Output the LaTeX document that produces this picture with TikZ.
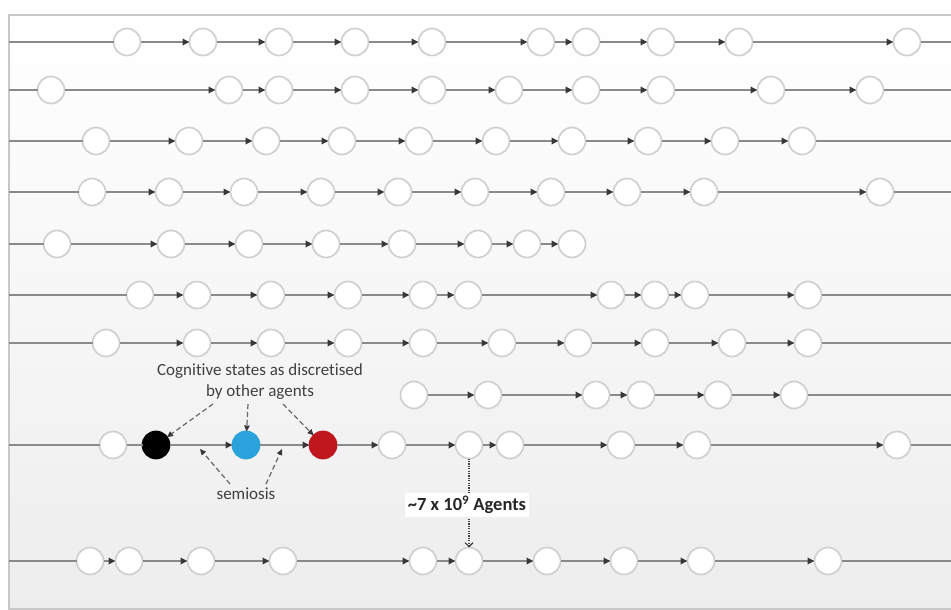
\documentclass[tikz,border=0pt]{standalone}
\usepackage{fontspec}
\setmainfont{Carlito}[Ligatures=NoCommon]
\usetikzlibrary{arrows.meta}
\definecolor{linkgray}{HTML}{8A8A8A}
\definecolor{ringgray}{HTML}{D0D0D0}
\definecolor{tipgray}{HTML}{383838}
\definecolor{agblue}{HTML}{2AA3DC}
\definecolor{agred}{HTML}{C0161D}
\definecolor{txtgray}{HTML}{404040}
\definecolor{framegray}{HTML}{C8C8C8}
\newcommand\agentrow[3]{\foreach \xx [count=\i] in {#3} {\node[state] (#1-\i) at (\xx,#2) {};}}
\newcommand\agentlinks[3]{\foreach \i [evaluate=\i as \p using int(\i-1)] in {#2,...,#3} {\draw[flow] (#1-\p) -- (#1-\i);}}
\begin{document}
\begin{tikzpicture}[x=1pt,y=-1pt,
  state/.style={circle,draw=ringgray,fill=white,line width=1.7pt,minimum size=27pt,inner sep=0pt,outer sep=0pt},
  link/.style={draw=linkgray,line width=1.7pt},
  flow/.style={link,-{Triangle[length=7pt,width=6.5pt,color=tipgray]}},
  dashflow/.style={draw=txtgray!80,line width=1.2pt,dash pattern=on 5pt off 3pt,-{Triangle[length=6pt,width=5.5pt,color=tipgray]}},
  dotflow/.style={draw=txtgray,line width=1.2pt,dash pattern=on 1.2pt off 1.2pt,-{Straight Barb[length=4pt,width=8pt,color=txtgray]}},
  txt/.style={font=\fontsize{17}{21}\selectfont,text=txtgray,inner sep=1pt}]
\useasboundingbox (0,0) rectangle (951,610);
\shade[top color=white, middle color=black!1, bottom color=black!7] (9,15) rectangle (951,609);
\draw[framegray,line width=1.3pt] (951,15) -- (9,15) -- (9,609) -- (951,609);
% row 1
\agentrow{r1}{42}{127,203,279,355,432,541,586,661,739,907}
\coordinate (r1s) at (9,42); \coordinate (r1e) at (951,42);
\draw[link] (r1s) -- (r1-1); \agentlinks{r1}{2}{10} \draw[link] (r1-10) -- (r1e);
% row 2
\agentrow{r2}{90}{51,229,279,355,432,509,586,661,771,870}
\coordinate (r2s) at (9,90); \coordinate (r2e) at (951,90);
\draw[link] (r2s) -- (r2-1); \agentlinks{r2}{2}{10} \draw[link] (r2-10) -- (r2e);
% row 3
\agentrow{r3}{141}{96,189,266,342,419,496,572,648,725,802}
\coordinate (r3s) at (9,141); \coordinate (r3e) at (951,141);
\draw[link] (r3s) -- (r3-1); \agentlinks{r3}{2}{10} \draw[link] (r3-10) -- (r3e);
% row 4
\agentrow{r4}{192}{92,169,244,321,398,475,551,627,704,880}
\coordinate (r4s) at (9,192); \coordinate (r4e) at (951,192);
\draw[link] (r4s) -- (r4-1); \agentlinks{r4}{2}{10} \draw[link] (r4-10) -- (r4e);
% row 5
\agentrow{r5}{244}{57,171,249,326,402,478,527,572}
\coordinate (r5s) at (9,244);
\draw[link] (r5s) -- (r5-1); \agentlinks{r5}{2}{8}
% row 6
\agentrow{r6}{295}{140,197,271,348,423,468,611,655,695,808}
\coordinate (r6s) at (9,295); \coordinate (r6e) at (951,295);
\draw[link] (r6s) -- (r6-1); \agentlinks{r6}{2}{10} \draw[link] (r6-10) -- (r6e);
% row 7
\agentrow{r7}{343}{106,197,271,348,423,502,578,655,732,808}
\coordinate (r7s) at (9,343); \coordinate (r7e) at (951,343);
\draw[link] (r7s) -- (r7-1); \agentlinks{r7}{2}{10} \draw[link] (r7-10) -- (r7e);
% row 8
\agentrow{r8}{395}{414,488,596,641,718,794}
\coordinate (r8e) at (951,395);
\agentlinks{r8}{2}{6} \draw[link] (r8-6) -- (r8e);
% row 9
\agentrow{r9}{445}{113,156,246,323,392,469,510,621,697,897}
\node[state,draw=black,fill=black] (r9-2) at (156,445) {};
\node[state,draw=agblue,fill=agblue] (r9-3) at (246,445) {};
\node[state,draw=agred,fill=agred] (r9-4) at (323,445) {};
\coordinate (r9s) at (9,445); \coordinate (r9e) at (951,445);
\draw[link] (r9s) -- (r9-1); \draw[link] (r9-1) -- (r9-2);
\agentlinks{r9}{3}{10} \draw[link] (r9-10) -- (r9e);
% row 10
\agentrow{r10}{561}{90,129,201,283,423,469,547,624,701,828}
\coordinate (r10s) at (9,561); \coordinate (r10e) at (951,561);
\draw[link] (r10s) -- (r10-1); \agentlinks{r10}{2}{10} \draw[link] (r10-10) -- (r10e);
% annotations
\node[txt,align=center] (cog) at (260,382) {Cognitive states as discretised\\by other agents};
\coordinate (cogA) at (213,404); \coordinate (cogB) at (248,404); \coordinate (cogC) at (283,404);
\draw[dashflow] (cogA) -- (r9-2);
\draw[dashflow] (cogB) -- (r9-3);
\draw[dashflow] (cogC) -- (r9-4);
\node[txt] (sem) at (246,494) {semiosis};
\coordinate (semA) at (230,484); \coordinate (semB) at (266,484);
\coordinate (semAt) at (200,449); \coordinate (semBt) at (282,449);
\draw[dashflow] (semA) -- (semAt);
\draw[dashflow] (semB) -- (semBt);
\draw[dotflow] (r9-6) -- (r10-6);
\node[font=\fontsize{18.5}{22}\selectfont\bfseries,text=black!85,fill=white,inner sep=3pt] (agents) at (467,505) {\textasciitilde 7 x 10\textsuperscript{9} Agents};
\end{tikzpicture}
\end{document}
